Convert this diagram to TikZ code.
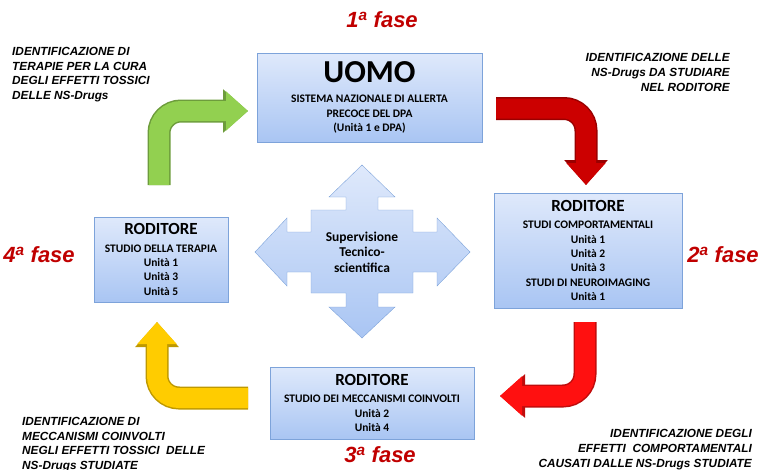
\documentclass[tikz,border=0pt]{standalone}
\usepackage{fontspec}
\setmainfont{Carlito}
\newfontfamily\arialfont{Liberation Sans}
\usetikzlibrary{arrows.meta}
\definecolor{boxtop}{HTML}{DFE9FB}
\definecolor{boxbot}{HTML}{A9C5F3}
\definecolor{boxedge}{HTML}{7DA3DA}
\definecolor{fasered}{HTML}{C00000}
\definecolor{arrgreen}{HTML}{92D050}
\definecolor{arrdark}{HTML}{CC0000}
\definecolor{arrred}{HTML}{FF1010}
\definecolor{arryellow}{HTML}{FFCC00}
\newcommand{\boxhead}[1]{{\fontsize{17}{18}\selectfont #1}}

\begin{document}
\begin{tikzpicture}[x=1pt, y=-1pt,
  box/.style={draw=boxedge, top color=boxtop, bottom color=boxbot, align=center, inner sep=0pt,
    font=\bfseries\fontsize{11.5}{14.3}\selectfont},
  fase/.style={text=fasered, inner sep=0pt, font=\arialfont\bfseries\itshape\fontsize{22}{26}\selectfont},
  note/.style={inner sep=0pt, font=\arialfont\bfseries\itshape\fontsize{11.8}{14.7}\selectfont},
  blockarrow/.style={line width=20pt, color=#1, rounded corners=22pt, -{Triangle[length=22pt,width=38pt]},
    preaction={draw=#1!75!black, line width=23pt, -{Triangle[length=25pt,width=42pt]}}}
]
\useasboundingbox (0,0) rectangle (761,469);

% phase boxes
\node (uomo) [box, minimum width=225, minimum height=89] at (369.5,97.5)
  {{\fontsize{32}{32}\selectfont UOMO}\\[6pt] SISTEMA NAZIONALE DI ALLERTA\\ PRECOCE DEL DPA\\ (Unità 1 e DPA)};
\node (comport) [box, minimum width=188, minimum height=115] at (588,250.5)
  {\boxhead{RODITORE}\\[3pt] STUDI COMPORTAMENTALI\\ Unità 1\\ Unità 2\\ Unità 3\\ STUDI DI NEUROIMAGING\\ Unità 1};
\node (meccan) [box, minimum width=204, minimum height=72] at (372,403)
  {\boxhead{RODITORE}\\[3pt] STUDIO DEI MECCANISMI COINVOLTI\\ Unità 2\\ Unità 4};
\node (terapia) [box, minimum width=134, minimum height=85] at (161,259.5)
  {\boxhead{RODITORE}\\[3pt] STUDIO DELLA TERAPIA\\ Unità 1\\ Unità 3\\ Unità 5};

% supervision cross
\path[draw=boxedge, top color=boxtop, bottom color=boxbot, shift={(362,252)}]
  (0,-87) -- (33,-55) -- (16,-55) -- (16,-42) -- (51,-42) -- (51,-20) -- (75,-20) -- (75,-34)
  -- (108,0) -- (75,34) -- (75,20) -- (51,20) -- (51,41) -- (16,41) -- (16,55) -- (33,55)
  -- (0,86) -- (-33,55) -- (-16,55) -- (-16,41) -- (-51,41) -- (-51,20) -- (-75,20) -- (-75,34)
  -- (-107,0) -- (-75,-34) -- (-75,-20) -- (-51,-20) -- (-51,-42) -- (-16,-42) -- (-16,-55) -- (-33,-55) -- cycle;
\node (superv) [align=center, font=\bfseries\fontsize{13.5}{15.5}\selectfont] at (362,252)
  {Supervisione\\ Tecnico-\\ scientifica};

% phase labels
\node (f1) [fase] at (382,20) {1\textsuperscript{a} fase};
\node (f2) [fase] at (723,255) {2\textsuperscript{a} fase};
\node (f3) [fase] at (380,455) {3\textsuperscript{a} fase};
\node (f4) [fase] at (39,255) {4\textsuperscript{a} fase};

% notes
\node (n1) [note, align=left, anchor=west] at (12,74.5)
  {IDENTIFICAZIONE DI\\ TERAPIE PER LA CURA\\ DEGLI EFFETTI TOSSICI\\ DELLE NS-Drugs};
\node (n2) [note, align=right, anchor=east] at (730,72.5)
  {IDENTIFICAZIONE DELLE\\ NS-Drugs DA STUDIARE\\ NEL RODITORE};
\node (n3) [note, align=right, anchor=east] at (752,449.5)
  {IDENTIFICAZIONE DEGLI\\ EFFETTI~ COMPORTAMENTALI\\ CAUSATI DALLE NS-Drugs STUDIATE};
\node (n4) [note, align=left, anchor=west] at (22,444.5)
  {IDENTIFICAZIONE DI\\ MECCANISMI COINVOLTI\\ NEGLI EFFETTI TOSSICI~ DELLE\\ NS-Drugs STUDIATE};

% block arrows
\coordinate (a1) at (496,108.5);
\coordinate (a2) at (586,185);
\coordinate (b1) at (585,322);
\coordinate (b2) at (500,396);
\coordinate (c1) at (248,398);
\coordinate (c2) at (157,322);
\coordinate (d1) at (159,185);
\coordinate (d2) at (248,111);
\draw[blockarrow=arrdark] (a1) -| (a2);
\draw[blockarrow=arrred] (b1) |- (b2);
\draw[blockarrow=arryellow] (c1) -| (c2);
\draw[blockarrow=arrgreen] (d1) |- (d2);
\end{tikzpicture}
\end{document}
